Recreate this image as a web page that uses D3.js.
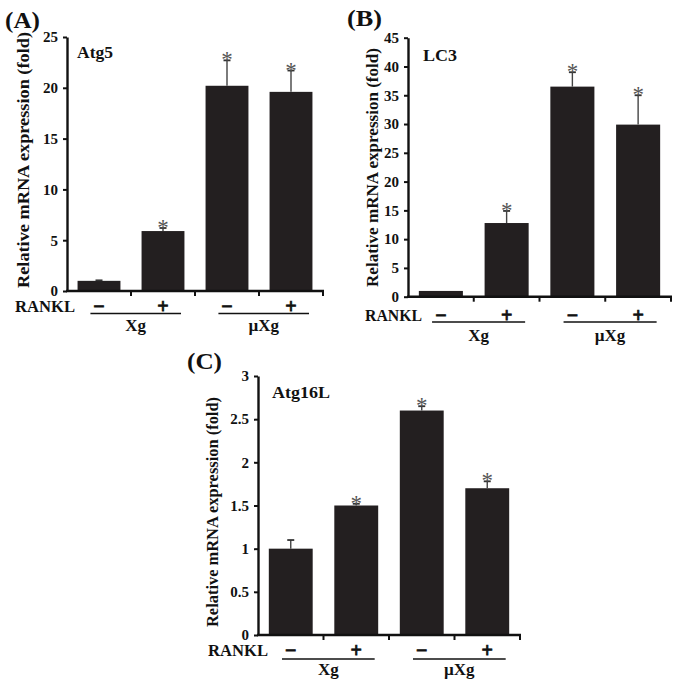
<!DOCTYPE html>
<html>
<head>
<meta charset="utf-8">
<script src="https://cdn.jsdelivr.net/npm/d3@7"></script>
<style>
  html, body { margin: 0; padding: 0; background: #fff; }
  svg { display: block; }
  text { font-family: "Liberation Serif", "Times New Roman", serif; fill: #111; }
</style>
</head>
<body>
<svg id="chart" width="679" height="687"></svg>
<script>
// ---------- data ----------
const categories = ["Xg −", "Xg +", "µXg −", "µXg +"];
const ranklSigns = ["−", "+", "−", "+"];
const groupNames = ["Xg", "µXg"];

const atg5Values = [1.0, 5.9, 20.2, 19.6];
const atg5Errors = [0.05, 0.3, 2.5, 2.1];
const atg5Ticks = [0, 5, 10, 15, 20, 25];

const lc3Values = [1.0, 12.8, 36.5, 29.9];
const lc3Errors = [0.0, 2.1, 2.5, 5.1];
const lc3Ticks = [0, 5, 10, 15, 20, 25, 30, 35, 40, 45];

const atg16lValues = [1.0, 1.5, 2.6, 1.7];
const atg16lErrors = [0.1, 0.02, 0.05, 0.08];
const atg16lTicks = [0, 0.5, 1, 1.5, 2, 2.5, 3];

const significant = [false, true, true, true];
const yLabelText = "Relative mRNA expression (fold)";

// ---------- layout ----------
const panels = [
  { letter: "(A)", gene: "Atg5", values: atg5Values, errors: atg5Errors, ticks: atg5Ticks,
    ax: 67, axEnd: 323, y0: 291, yTop: 37,
    letterPos: [5, 28, 35], genePos: [77, 57.5, 36], yLabel: [23, 160, 256],
    rankl: [15, 312, 60], lineY: 313.5, groupY: 330.5 },
  { letter: "(B)", gene: "LC3", values: lc3Values, errors: lc3Errors, ticks: lc3Ticks,
    ax: 408, axEnd: 671, y0: 296.7, yTop: 37.7,
    letterPos: [347, 26, 35], genePos: [423, 61, 34], yLabel: [372, 167.5, 239],
    rankl: [365, 321, 57], lineY: 322, groupY: 341 },
  { letter: "(C)", gene: "Atg16L", values: atg16lValues, errors: atg16lErrors, ticks: atg16lTicks,
    ax: 258, axEnd: 520, y0: 635, yTop: 376,
    letterPos: [187, 369, 35], genePos: [272, 398, 58], yLabel: [212, 512, 230],
    rankl: [208, 656, 60], lineY: 659, groupY: 675 }
];

const svg = d3.select("#chart");
const barColor = "#231f20";

panels.forEach(p => {
  const g = svg.append("g");
  const yMax = p.ticks[p.ticks.length - 1];
  const y = d3.scaleLinear().domain([0, yMax]).range([p.y0, p.yTop]);
  const x = d3.scaleBand().domain(categories).range([p.ax, p.axEnd])
    .paddingInner(0.33).paddingOuter(0.165);
  const bw = x.bandwidth();

  // bars
  g.selectAll("rect.bar").data(p.values).enter().append("rect")
    .attr("x", (d, i) => x(categories[i]))
    .attr("y", d => y(d))
    .attr("width", bw)
    .attr("height", d => p.y0 - y(d))
    .attr("fill", barColor);

  // error bars (upper only)
  const err = p.values.map((v, i) => ({ v, e: p.errors[i], c: categories[i], s: significant[i] }));
  err.forEach(d => {
    if (d.e <= 0) return;
    const cx = x(d.c) + bw / 2;
    g.append("line").attr("x1", cx).attr("x2", cx)
      .attr("y1", y(d.v)).attr("y2", y(d.v + d.e))
      .attr("stroke", "#444").attr("stroke-width", 1.4);
    g.append("line").attr("x1", cx - 3.5).attr("x2", cx + 3.5)
      .attr("y1", y(d.v + d.e)).attr("y2", y(d.v + d.e))
      .attr("stroke", "#333").attr("stroke-width", 1.8);
  });
  // asterisks
  err.forEach(d => {
    if (!d.s) return;
    const cx = x(d.c) + bw / 2;
    g.append("text").attr("x", cx).attr("y", y(d.v + d.e) + 7)
      .attr("text-anchor", "middle").attr("font-size", 23)
      .style("fill", "#555").text("*");
  });

  // y axis
  const yAxis = d3.axisLeft(y).tickValues(p.ticks).tickFormat(d => String(d))
    .tickSize(4).tickSizeOuter(0).tickPadding(5);
  const ya = g.append("g").attr("transform", `translate(${p.ax},0)`).call(yAxis);
  ya.select(".domain").attr("stroke", "#111").attr("stroke-width", 2.4);
  ya.selectAll(".tick line").attr("stroke", "#111").attr("stroke-width", 2);
  ya.selectAll(".tick text").attr("font-size", 15).attr("font-weight", "bold")
    .style("font-family", "'Liberation Serif', serif").style("fill", "#111");

  // x axis with ticks at band boundaries
  const boundaries = categories.map(c => x(c) + bw + x.step() * x.paddingInner() / 2);
  g.append("line").attr("x1", p.ax - 1).attr("x2", p.axEnd + 1)
    .attr("y1", p.y0).attr("y2", p.y0).attr("stroke", "#111").attr("stroke-width", 2.4);
  g.selectAll("line.xtick").data(boundaries).enter().append("line")
    .attr("x1", d => d).attr("x2", d => d)
    .attr("y1", p.y0).attr("y2", p.y0 + 5)
    .attr("stroke", "#111").attr("stroke-width", 2);

  // panel letter
  g.append("text").attr("x", p.letterPos[0]).attr("y", p.letterPos[1])
    .attr("font-size", 23).attr("font-weight", "bold")
    .attr("textLength", p.letterPos[2]).attr("lengthAdjust", "spacingAndGlyphs")
    .text(p.letter);
  // gene label
  g.append("text").attr("x", p.genePos[0]).attr("y", p.genePos[1])
    .attr("font-size", 17).attr("font-weight", "bold")
    .attr("textLength", p.genePos[2]).attr("lengthAdjust", "spacingAndGlyphs")
    .text(p.gene);
  // y label
  g.append("text")
    .attr("transform", `translate(${p.yLabel[0]},${p.yLabel[1]}) rotate(-90)`)
    .attr("text-anchor", "middle").attr("dy", "0.35em")
    .attr("font-size", 17.5).attr("font-weight", "bold")
    .attr("textLength", p.yLabel[2]).attr("lengthAdjust", "spacingAndGlyphs")
    .text(yLabelText);
  // RANKL
  g.append("text").attr("x", p.rankl[0]).attr("y", p.rankl[1])
    .attr("font-size", 16).attr("font-weight", "bold")
    .attr("textLength", p.rankl[2]).attr("lengthAdjust", "spacingAndGlyphs")
    .text("RANKL");
  // signs
  g.selectAll("text.sign").data(ranklSigns).enter().append("text")
    .attr("x", (d, i) => x(categories[i]) + bw / 2)
    .attr("y", p.rankl[1] + 0.5)
    .attr("text-anchor", "middle").attr("font-size", 20).attr("font-weight", "bold")
    .style("stroke", "#111").style("stroke-width", 0.8)
    .text(d => d);
  // group lines and labels
  groupNames.forEach((name, gi) => {
    const c1 = categories[gi * 2], c2 = categories[gi * 2 + 1];
    const xs = x(c1) + 0.3 * bw, xe = x(c2) + 0.92 * bw;
    g.append("line").attr("x1", xs).attr("x2", xe)
      .attr("y1", p.lineY).attr("y2", p.lineY)
      .attr("stroke", "#111").attr("stroke-width", 1.6);
    g.append("text").attr("x", (xs + xe) / 2).attr("y", p.groupY)
      .attr("text-anchor", "middle").attr("font-size", 17).attr("font-weight", "bold")
      .text(name);
  });
});
</script>
</body>
</html>
